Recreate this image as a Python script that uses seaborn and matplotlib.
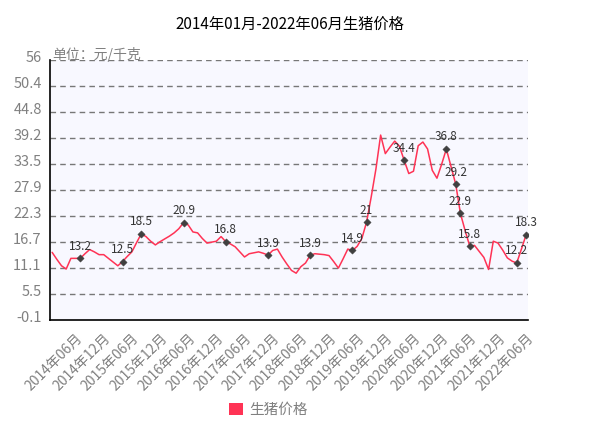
import matplotlib
matplotlib.use("Agg")
import matplotlib.pyplot as plt
import matplotlib.transforms as mtransforms
from matplotlib.patches import Patch
import seaborn as sns
import pandas as pd

# ---- data ----
months = [f"{2014 + (m // 12)}年{(m % 12) + 1:02d}月" for m in range(102)]
prices = [14.5, 13.0, 11.6, 10.9, 13.2, 13.2, 13.2, 14.2, 15.1, 14.6, 14.0, 14.0,
          13.2, 12.4, 11.6, 12.5, 13.6, 14.6, 16.6, 18.5, 17.9, 16.9, 16.1, 16.8,
          17.4, 18.0, 18.7, 19.6, 20.9, 20.4, 18.9, 18.7, 17.5, 16.5, 16.7, 16.9,
          17.9, 16.8, 16.3, 15.7, 14.6, 13.5, 14.2, 14.4, 14.6, 14.3, 13.9, 14.9,
          15.2, 13.5, 12.0, 10.6, 10.0, 11.4, 12.2, 13.9, 14.2, 14.1, 14.0, 13.8,
          12.5, 11.1, 13.1, 15.2, 14.9, 15.8, 17.5, 21.0, 26.5, 32.5, 39.8, 35.8,
          37.2, 38.5, 37.4, 34.4, 31.5, 32.0, 37.5, 38.3, 36.8, 32.2, 30.5, 33.5,
          36.8, 33.0, 29.2, 22.9, 19.2, 15.8, 16.0, 14.7, 13.4, 10.8, 16.9, 16.5,
          15.0, 13.3, 12.6, 12.2, 15.2, 18.3]
marked_idx = [6, 15, 19, 28, 37, 46, 55, 64, 67, 75, 84, 86, 87, 89, 99, 101]
marked_labels = ["13.2", "12.5", "18.5", "20.9", "16.8", "13.9", "13.9", "14.9", "21",
                 "34.4", "36.8", "29.2", "22.9", "15.8", "12.2", "18.3"]
xtick_idx = list(range(5, 102, 6))
ytick_vals = [-0.1, 5.51, 11.12, 16.73, 22.34, 27.95, 33.56, 39.17, 44.78, 50.39, 56.0]
ytick_labels = ["-0.1", "5.5", "11.1", "16.7", "22.3", "27.9", "33.5", "39.2", "44.8", "50.4", "56"]
title = "2014年01月-2022年06月生猪价格"
series_name = "生猪价格"
unit_text = "单位：元/千克"

df = pd.DataFrame({"idx": range(len(prices)), "price": prices, "month": months})
mk = df.iloc[marked_idx]

sns.set_style("white")
plt.rcParams["font.family"] = ["Noto Sans CJK SC", "DejaVu Sans"]

W, H = 610, 436
fig = plt.figure(figsize=(W / 100, H / 100), dpi=100)
ax = fig.add_axes([50 / W, 1 - 320 / H, (528 - 50) / W, (320 - 60) / H])
ax.set_facecolor("#F8F8FF")

line_color = "#FF3355"
sns.lineplot(data=df, x="idx", y="price", ax=ax, color=line_color, linewidth=1.1)
sns.scatterplot(data=mk, x="idx", y="price", ax=ax, color="#404040", marker="D",
                s=14, edgecolor="#404040", zorder=5)
for (i, r), lab in zip(mk.iterrows(), marked_labels):
    ax.annotate(lab, (r["idx"], r["price"]), xytext=(0, 4), textcoords="offset points",
                ha="center", va="bottom", fontsize=8.5, color="#333333", zorder=6)

ax.set_xlim(-0.45, 101.4)
ax.set_ylim(-0.1, 56)
ax.set_yticks(ytick_vals)
ax.set_yticklabels(ytick_labels, fontsize=10.5, color="#808080")
ax.set_xticks(xtick_idx)
ax.set_xticklabels([months[i] for i in xtick_idx], rotation=45, ha="right",
                   rotation_mode="anchor", fontsize=10, color="#808080")
ax.tick_params(axis="y", length=0, pad=6)
ax.tick_params(axis="x", length=4, width=0.8, color="#555555", pad=4)
offset = mtransforms.ScaledTranslation(0, 4 / 100, fig.dpi_scale_trans)
for lab in ax.get_yticklabels():
    lab.set_transform(lab.get_transform() + offset)

for v in ytick_vals[1:]:
    ax.axhline(v, color="#777777", linestyle=(0, (4, 3)), linewidth=1.0, zorder=1)

ax.set_xlabel("")
ax.set_ylabel("")
for s in ["top", "right"]:
    ax.spines[s].set_visible(False)
ax.spines["left"].set_color("black")
ax.spines["bottom"].set_color("black")
ax.spines["left"].set_linewidth(1.2)
ax.spines["bottom"].set_linewidth(1.2)

fig.text(52 / W, 1 - 55 / H, unit_text, fontsize=10, color="#808080", ha="left", va="center")
fig.text(290 / W, 1 - 24 / H, title, fontsize=11, color="black", ha="center", va="center")

handle = Patch(facecolor="#FF3355", edgecolor="none")
fig.legend([handle], [series_name], loc="center", bbox_to_anchor=(268 / W, 1 - 410 / H),
           frameon=False, fontsize=10.5, labelcolor="#808080", handlelength=1.0,
           handleheight=0.9, handletextpad=0.4)

fig.savefig("out.png", dpi=100)
